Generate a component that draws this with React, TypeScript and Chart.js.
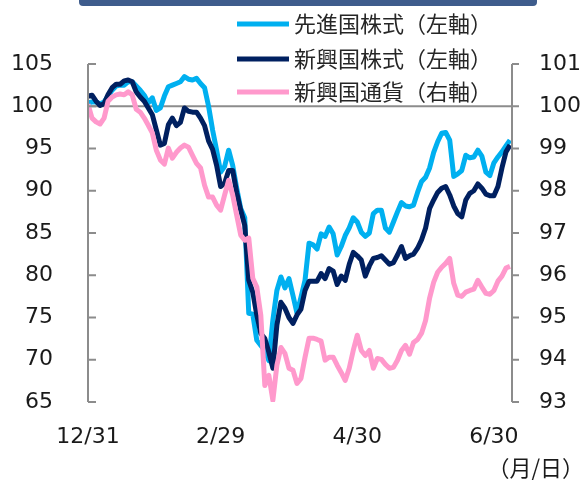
import React, { useEffect, useRef } from 'react';
import { Chart, registerables } from 'chart.js';

Chart.register(...registerables);

// ---- data ----
const seriesNames = ['先進国株式（左軸）', '新興国株式（左軸）', '新興国通貨（右軸）'];
const seriesColors = ['#00b0f0', '#002060', '#ff99cc'];
const xTickLabels = ['12/31', '2/29', '4/30', '6/30'];
const xTickIndex = [0, 33, 67, 101];
const unitLabel = '（月/日）';
const leftMin = 65, leftMax = 105, leftStep = 5;
const rightMin = 93, rightMax = 101, rightStep = 1;
const refLineValue = 100;

const advanced = [
  100.4, 100.5, 100.5, 100.3, 100.5, 101.2, 101.9, 102.4, 102.5, 102.5,
  102.9, 102.9, 102.4, 101.9, 101.3, 100.4, 101.0, 99.5, 99.8, 101.2,
  102.3, 102.5, 102.7, 102.9, 103.5, 103.2, 103.1, 103.3, 102.7, 102.2,
  100.0, 97.2, 94.8, 92.2, 92.9, 94.8, 93.0, 90.3, 87.9, 86.8,
  75.5, 75.4, 72.3, 71.7, 71.1, 69.9, 74.7, 78.2, 79.8, 78.5,
  79.6, 77.6, 75.5, 77.4, 79.4, 83.8, 83.6, 83.1, 84.9, 84.6,
  85.7, 84.9, 82.4, 83.4, 84.7, 85.6, 86.8, 86.3, 85.1, 84.6,
  85.0, 87.3, 87.7, 87.7, 85.6, 85.1, 86.3, 87.5, 88.6, 88.2,
  88.1, 88.3, 89.8, 91.1, 91.6, 92.7, 94.5, 95.8, 96.8, 96.9,
  96.0, 91.7, 92.0, 92.4, 94.2, 93.9, 94.0, 94.8, 94.1, 92.2,
  91.8, 93.3, 94.0, 94.6, 95.3, 96.0,
];

const emerging = [
  101.2, 101.3, 100.6, 100.1, 100.3, 101.4, 102.2, 102.6, 102.6, 103.0,
  103.1, 102.9, 101.7, 101.1, 100.6, 99.8, 99.0, 97.2, 95.4, 95.6,
  97.8, 98.6, 97.7, 98.1, 99.8, 99.4, 99.3, 99.3, 98.6, 97.7,
  95.9, 94.9, 93.0, 90.5, 90.9, 92.4, 92.4, 89.8, 87.7, 85.9,
  79.4, 78.0, 75.3, 73.1, 72.5, 70.9, 69.0, 74.1, 76.8, 76.1,
  75.0, 74.3, 75.3, 76.0, 78.2, 79.3, 79.3, 79.3, 80.2, 79.6,
  80.8, 80.5, 78.9, 79.9, 79.4, 81.3, 82.7, 82.3, 81.8, 79.9,
  81.1, 82.0, 82.1, 82.3, 81.8, 81.3, 81.5, 82.4, 83.4, 82.0,
  82.3, 82.5, 83.2, 84.2, 85.6, 87.9, 88.9, 89.8, 90.3, 90.5,
  89.5, 88.2, 87.3, 86.9, 88.9, 89.7, 90.0, 90.8, 90.3, 89.6,
  89.4, 89.4, 90.5, 92.7, 94.6, 95.4,
];

const emCurrency = [
  100.05, 99.72, 99.63, 99.58, 99.72, 100.12, 100.22, 100.27, 100.29, 100.27,
  100.34, 100.27, 99.93, 99.86, 99.72, 99.55, 99.37, 98.96, 98.73, 98.63,
  99.01, 98.77, 98.91, 99.01, 99.08, 99.03, 98.84, 98.65, 98.54, 98.13,
  97.85, 97.85, 97.66, 97.54, 97.90, 98.25, 97.90, 97.42, 96.95, 96.83,
  96.88, 95.93, 95.72, 95.05, 93.39, 93.63, 93.04, 93.87, 94.29, 94.15,
  93.80, 93.75, 93.44, 93.56, 94.06, 94.51, 94.51, 94.48, 94.44, 93.99,
  94.06, 94.06, 93.87, 93.70, 93.51, 93.80, 94.22, 94.58, 94.22, 94.10,
  94.22, 93.80, 94.03, 94.01, 93.89, 93.80, 93.82, 93.99, 94.22, 94.34,
  94.13, 94.41, 94.48, 94.63, 94.93, 95.46, 95.83, 96.07, 96.19, 96.28,
  96.40, 95.81, 95.53, 95.50, 95.60, 95.64, 95.67, 95.88, 95.72, 95.57,
  95.55, 95.64, 95.86, 95.98, 96.17, 96.21,
];

const toPoints = (arr: number[]) => arr.map((v, i) => ({ x: i, y: v }));

const AXIS_COLOR = '#8c8c8c';
const TEXT_COLOR = '#1a1a1a';
const TICK_FONT = { family: '"DejaVu Sans", Verdana, sans-serif', size: 22 };
const CJK_FONT = '"Noto Sans CJK JP", sans-serif';

const decorPlugin = {
  id: 'decor',
  beforeDatasetsDraw(chart: any) {
    const { ctx, chartArea, scales } = chart;
    const y = scales.y.getPixelForValue(refLineValue);
    ctx.save();
    ctx.strokeStyle = AXIS_COLOR;
    ctx.lineWidth = 2;
    ctx.beginPath();
    ctx.moveTo(chartArea.left, y);
    ctx.lineTo(chartArea.right, y);
    ctx.stroke();
    ctx.restore();
  },
  afterDatasetsDraw(chart: any) {
    const { ctx, chartArea, scales } = chart;
    ctx.save();
    ctx.strokeStyle = AXIS_COLOR;
    ctx.lineWidth = 2;
    ctx.lineCap = 'butt';
    // left axis
    ctx.beginPath();
    ctx.moveTo(chartArea.left, chartArea.top);
    ctx.lineTo(chartArea.left, chartArea.bottom);
    scales.y.ticks.forEach((t: any) => {
      const py = scales.y.getPixelForValue(t.value);
      ctx.moveTo(chartArea.left, py);
      ctx.lineTo(chartArea.left + 8, py);
    });
    // right axis
    ctx.moveTo(chartArea.right, chartArea.top);
    ctx.lineTo(chartArea.right, chartArea.bottom);
    scales.y1.ticks.forEach((t: any) => {
      const py = scales.y1.getPixelForValue(t.value);
      ctx.moveTo(chartArea.right, py);
      ctx.lineTo(chartArea.right + 7, py);
    });
    ctx.stroke();

    // top bar
    ctx.fillStyle = '#3e5c8c';
    ctx.beginPath();
    (ctx as any).roundRect(79, -8, 458, 14, 4);
    ctx.fill();

    // legend
    const rows = [24, 59, 92];
    ctx.font = `22px ${CJK_FONT}`;
    ctx.textBaseline = 'middle';
    ctx.textAlign = 'left';
    seriesNames.forEach((name, i) => {
      ctx.strokeStyle = seriesColors[i];
      ctx.lineWidth = 5;
      ctx.beginPath();
      ctx.moveTo(237, rows[i]);
      ctx.lineTo(289, rows[i]);
      ctx.stroke();
      ctx.fillStyle = '#262626';
      ctx.fillText(name, 294, rows[i]);
    });

    // unit label
    ctx.font = `22px ${CJK_FONT}`;
    ctx.textAlign = 'right';
    ctx.fillStyle = TEXT_COLOR;
    ctx.fillText(unitLabel, 584, 468);
    ctx.restore();
  },
};

export default function App() {
  const ref = useRef<HTMLCanvasElement>(null);
  useEffect(() => {
    const lastIndex = advanced.length - 1;
    const chart = new Chart(ref.current as HTMLCanvasElement, {
      type: 'line',
      data: {
        datasets: [
          { label: seriesNames[0], data: toPoints(advanced), yAxisID: 'y', borderColor: seriesColors[0], order: 3 },
          { label: seriesNames[1], data: toPoints(emerging), yAxisID: 'y', borderColor: seriesColors[1], order: 2 },
          { label: seriesNames[2], data: toPoints(emCurrency), yAxisID: 'y1', borderColor: seriesColors[2], order: 1 },
        ] as any,
      },
      options: {
        responsive: false,
        animation: false,
        events: [],
        layout: { padding: { top: 64, left: 0, right: 0, bottom: 0 } },
        elements: {
          line: { borderWidth: 5, tension: 0, borderJoinStyle: 'round', borderCapStyle: 'butt', fill: false },
          point: { radius: 0 },
        },
        plugins: { legend: { display: false }, tooltip: { enabled: false }, title: { display: false } },
        scales: {
          x: {
            type: 'linear',
            position: 'bottom',
            min: 0,
            max: lastIndex + 0.5,
            grid: { display: false, drawTicks: false },
            border: { display: false },
            afterFit: (s: any) => { s.height = 78; },
            afterBuildTicks: (s: any) => { s.ticks = xTickIndex.map((v) => ({ value: v })); },
            ticks: {
              autoSkip: false,
              maxRotation: 0,
              padding: 22,
              color: TEXT_COLOR,
              font: TICK_FONT,
              callback: (_v: any, i: number) => xTickLabels[i],
            },
          },
          y: {
            type: 'linear',
            position: 'left',
            min: leftMin,
            max: leftMax,
            grid: { display: false, drawTicks: false },
            border: { display: false },
            afterFit: (s: any) => { s.width = 88; },
            ticks: { stepSize: leftStep, padding: 35, color: TEXT_COLOR, font: TICK_FONT },
          },
          y1: {
            type: 'linear',
            position: 'right',
            min: rightMin,
            max: rightMax,
            grid: { display: false, drawTicks: false },
            border: { display: false },
            afterFit: (s: any) => { s.width = 71; },
            ticks: { stepSize: rightStep, padding: 27, color: TEXT_COLOR, font: TICK_FONT },
          },
        },
      } as any,
      plugins: [decorPlugin],
    });
    return () => chart.destroy();
  }, []);
  return (
    <div style={{ position: 'absolute', left: 0, top: 0, width: 583, height: 480, background: '#fff' }}>
      <canvas ref={ref} width={583} height={480} style={{ display: 'block' }} />
    </div>
  );
}
